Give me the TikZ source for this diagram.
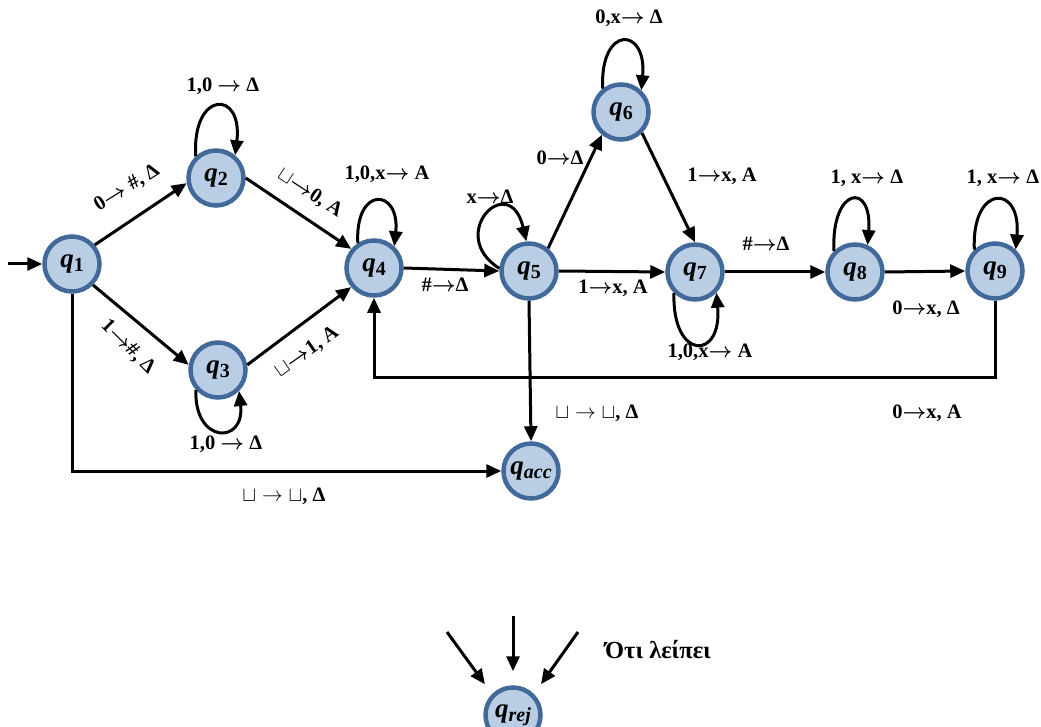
\documentclass[tikz,border=0pt]{standalone}
\usepackage{fontspec}
\setmainfont{Liberation Serif}
\usetikzlibrary{arrows.meta}
\definecolor{stfill}{HTML}{B9CDE5}
\definecolor{stdraw}{HTML}{41699A}
\tikzset{
  state/.style={circle, draw=stdraw, fill=stfill, line width=4.5pt, minimum size=55pt,
    inner sep=0pt, font=\fontsize{27}{28}\selectfont\bfseries\itshape},
  edge/.style={line width=3pt, -{Triangle[length=15pt,width=13pt]}},
  lbl/.style={font=\fontsize{20.5}{22}\selectfont\bfseries, inner sep=0pt},
}
% state name: bold italic q with a lowered index
\newcommand{\stq}[1]{q\raisebox{-0.35ex}{\fontsize{20}{20}\selectfont #1}}
\newcommand{\blank}{$\sqcup$}
\newcommand{\tto}{{\boldmath$\rightarrow$}}
\begin{document}
\begin{tikzpicture}[x=1pt,y=-1pt]
\useasboundingbox (0,0) rectangle (1041,727);

% states
\node[state] (q1) at (72,264) {\stq{\upshape 1}};
\node[state] (q2) at (216,178) {\stq{\upshape 2}};
\node[state] (q3) at (218,370) {\stq{\upshape 3}};
\node[state] (q4) at (374,268) {\stq{\upshape 4}};
\node[state] (q5) at (529,271) {\stq{\upshape 5}};
\node[state] (q6) at (621,112) {\stq{\upshape 6}};
\node[state] (q7) at (695,272) {\stq{\upshape 7}};
\node[state] (q8) at (855,272) {\stq{\upshape 8}};
\node[state] (q9) at (995,271) {\stq{\upshape 9}};
\node[state] (qacc) at (531,471) {\stq{acc}};
\node[state] (qrej) at (513,715) {\stq{rej}};

% start arrow
\coordinate (start) at (8,264);
\draw[edge] (start) -- (q1.west);

% transitions
\draw[edge] (q1.40) -- (q2.190);
\draw[edge] (q1.-45) -- (q3.170);
\draw[edge] (q2.0) -- (q4.140);
\draw[edge] (q3.10) -- (q4.220);
\draw[edge] (q4.east) -- (q5.west);
\draw[edge] (q5.50) -- (q6.230);
\draw[edge] (q6.-45) -- (q7.90);
\draw[edge] (q5.east) -- (q7.west);
\draw[edge] (q7.east) -- (q8.west);
\draw[edge] (q8.east) -- (q9.west);
\coordinate (back) at (0,377);
\draw[edge] (q9.south) -- (q9.south |- back) -| (q4.south);
\draw[edge] (q5.south) -- (qacc.north);
\draw[edge] (q1.south) |- (qacc.west);

% self loops
\draw[edge] (q2.133) .. controls +(-4,-66) and +(8,-66) .. (q2.50);
\draw[edge] (q3.222) .. controls +(-2,54) and +(6,54) .. (q3.315);
\draw[edge] (q4.123) .. controls +(-3,-58) and +(6,-58) .. (q4.47);
\draw[edge] (q5.175) .. controls +(-54,-34) and +(-17,-72) .. (q5.95);
\draw[edge] (q6.128) .. controls +(-3,-64) and +(6,-64) .. (q6.47);
\draw[edge] (q7.225) .. controls +(-2,68) and +(6,68) .. (q7.316);
\draw[edge] (q8.135) .. controls +(-3,-64) and +(5,-64) .. (q8.65);
\draw[edge] (q9.134) .. controls +(-3,-66) and +(6,-66) .. (q9.46);

% arrows into the reject state
\coordinate (r1) at (447,632);
\coordinate (r2) at (513,616);
\coordinate (r3) at (578,632);
\draw[edge, shorten >=12pt] (r1) -- (qrej.135);
\draw[edge, shorten >=14pt] (r2) -- (qrej.north);
\draw[edge, shorten >=12pt] (r3) -- (qrej.45);

% labels
\node[lbl, rotate=32] (l12) at (127,188) {0\tto\ \#, Δ};
\node[lbl, rotate=-45] (l13) at (128,347) {1\tto\#, Δ};
\node[lbl, rotate=-33] (l24) at (310,193) {\blank\tto0, A};
\node[lbl, rotate=35] (l34) at (307,352) {\blank\tto1, A};
\node[lbl] (l22) at (223,86) {1,0 \tto\ Δ};
\node[lbl] (l33) at (226,444) {1,0 \tto\ Δ};
\node[lbl] (l44) at (387,174) {1,0,x\tto\ A};
\node[lbl] (l55) at (490,197) {x\tto Δ};
\node[lbl] (l45) at (445,285) {\#\tto Δ};
\node[lbl] (l56) at (560,158) {0\tto Δ};
\node[lbl] (l66) at (629,18) {0,x\tto\ Δ};
\node[lbl] (l67) at (722,176) {1\tto x, A};
\node[lbl] (l57) at (613,288) {1\tto x, A};
\node[lbl] (l77) at (710,352) {1,0,x\tto\ A};
\node[lbl] (l78) at (766,244) {\#\tto Δ};
\node[lbl] (l88) at (867,178) {1, x\tto\ Δ};
\node[lbl] (l99) at (1003,178) {1, x\tto\ Δ};
\node[lbl] (l89) at (926,309) {0\tto x, Δ};
\node[lbl] (l94) at (927,413) {0\tto x, A};
\node[lbl] (l5a) at (597,413) {$\sqcup\rightarrow\sqcup$, Δ};
\node[lbl] (l1a) at (284,496) {$\sqcup\rightarrow\sqcup$, Δ};
\node[lbl, font=\fontsize{24.5}{26}\selectfont\bfseries] (lrej) at (658,650) {Ότι λείπει};
\end{tikzpicture}
\end{document}
